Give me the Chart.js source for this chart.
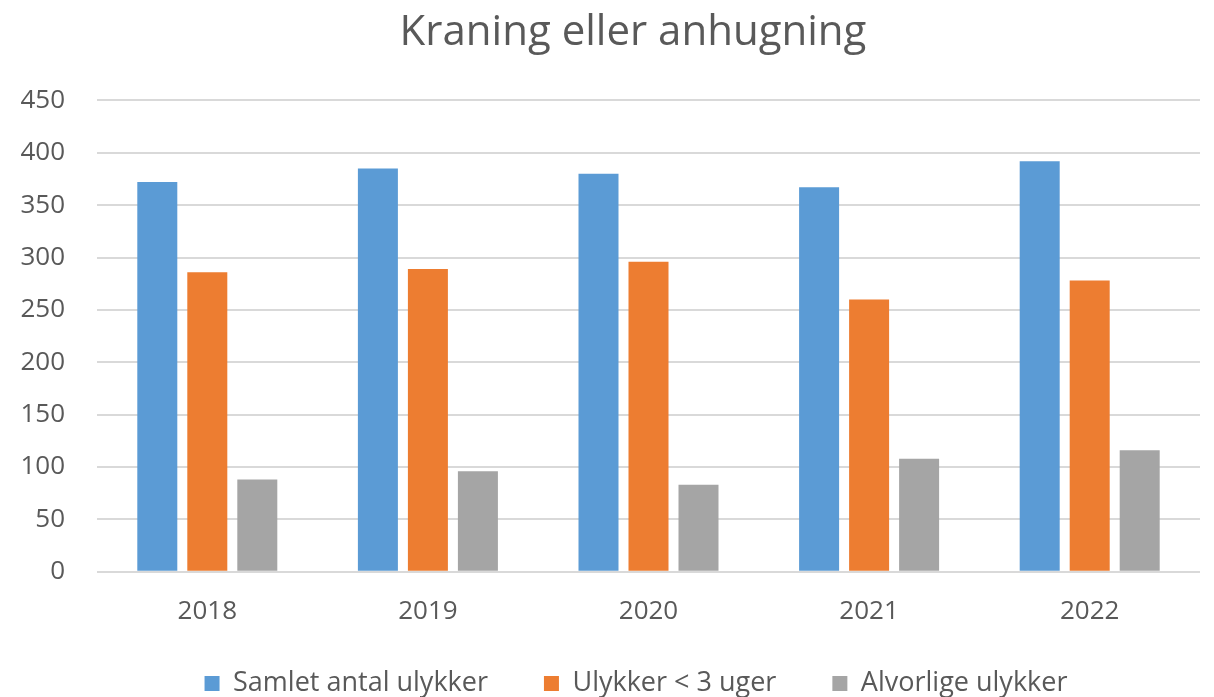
<!DOCTYPE html>
<html lang="da">
<head>
  <meta charset="UTF-8">
  <title>Kraning eller anhugning</title>
  <script src="https://cdn.jsdelivr.net/npm/chart.js"></script>
  <style>
    html, body { margin: 0; padding: 0; background: #fff; }
    .wrap { width: 1214px; height: 697px; position: relative; }
  </style>
</head>
<body>
<div class="wrap">
  <canvas id="chart" width="1214" height="697"></canvas>
</div>

<script>
  // data
  var years = ['2018', '2019', '2020', '2021', '2022'];
  var samletAntal = [372, 385, 380, 367, 392];
  var under3Uger = [286, 289, 296, 260, 278];
  var alvorlige = [88, 96, 83, 108, 116];
  var seriesNames = ['Samlet antal ulykker', 'Ulykker < 3 uger', 'Alvorlige ulykker'];
  var seriesColors = ['#5b9bd5', '#ed7d31', '#a5a5a5'];

  var font = '"Open Sans", "Noto Sans", sans-serif';
  var textColor = '#595959';

  // small tweaks: shrink the legend box, nudge title and legend right
  var layoutTweaks = {
    id: 'layoutTweaks',
    beforeInit: function (chart) {
      var origFit = chart.legend.fit;
      chart.legend.fit = function () {
        origFit.call(this);
        this.height -= 25;
      };
    },
    afterLayout: function (chart) {
      chart.titleBlock.left += 33;
      chart.titleBlock.right += 33;
      chart.legend.left += 36;
      chart.legend.right += 36;
      chart.legend.top -= 15;
    }
  };

  var ctx = document.getElementById('chart').getContext('2d');
  var chart = new Chart(ctx, {
    type: 'bar',
    data: {
      labels: years,
      datasets: [samletAntal, under3Uger, alvorlige].map(function (vals, i) {
        return {
          label: seriesNames[i],
          data: vals,
          backgroundColor: seriesColors[i],
          borderWidth: 0,
          categoryPercentage: 0.68,
          barPercentage: 0.8
        };
      })
    },
    plugins: [layoutTweaks],
    options: {
      responsive: false,
      animation: false,
      layout: { padding: { left: 0, right: 14, top: 0, bottom: 0 } },
      plugins: {
        title: {
          display: true,
          text: 'Kraning eller anhugning',
          color: textColor,
          font: { family: font, size: 42, weight: '400' },
          padding: { top: 8, bottom: 42 }
        },
        legend: {
          position: 'bottom',
          labels: {
            color: textColor,
            font: { family: font, size: 27 },
            boxWidth: 15,
            boxHeight: 15,
            padding: 56
          }
        },
        tooltip: { enabled: false }
      },
      scales: {
        x: {
          grid: { display: false },
          border: { display: false },
          ticks: { color: textColor, font: { family: font, size: 26 }, padding: 16 },
          afterFit: function (s) { s.height -= 14; }
        },
        y: {
          min: 0,
          max: 450,
          ticks: { stepSize: 50, color: textColor, font: { family: font, size: 26 }, padding: 32 },
          grid: { color: '#d9d9d9', lineWidth: 2, drawTicks: false },
          border: { display: false },
          afterFit: function (s) { s.width = 97; }
        }
      }
    }
  });
</script>
</body>
</html>
